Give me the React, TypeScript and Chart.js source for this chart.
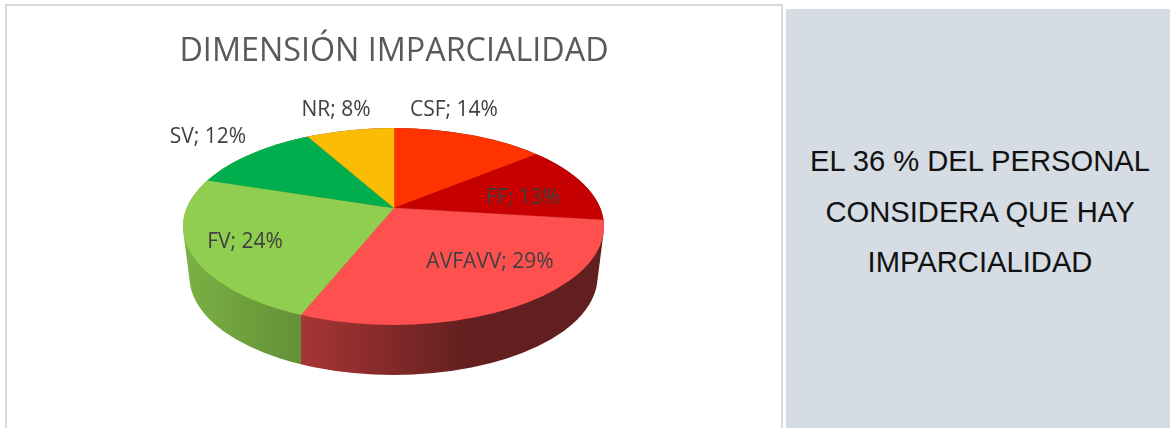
import React, { useEffect, useRef } from "react";
import { Chart, registerables } from "chart.js";

Chart.register(...registerables);

const categories = ["CSF", "FF", "AVFAVV", "FV", "SV", "NR"];
const values = [14, 13, 29, 24, 12, 8];
const colors = ["#FF3300", "#C60000", "#FF5050", "#8FCE4F", "#00AE4D", "#FBBC05"];
// Shade stops (position, brightness) of the outer wall of each slice, where it faces the viewer
const wallShades = [
  [[0, 0.7], [1, 0.7]],
  [[0, 0.4], [1, 0.4]],
  [[0, 0.66], [0.55, 0.39], [1, 0.39]],
  [[0, 0.86], [1, 0.7]],
  [[0, 0.7], [1, 0.7]],
  [[0, 0.7], [1, 0.7]],
];
// Data label centres, in chart canvas pixels
const labelX = [448, 517, 484, 239, 202, 330];
const labelY = [104, 192, 256, 236, 131, 104];
const titleText = "DIMENSIÓN IMPARCIALIDAD";
const noteLines = ["EL 36 % DEL PERSONAL", "CONSIDERA QUE HAY", "IMPARCIALIDAD"];

const CANVAS_LEFT = 6;
const CANVAS_TOP = 6;
const APEX = { x: 388, y: 202 };
const TILT = 0.455;
const TOP_FACE = { x: 387.5, y: 220.5, rx: 210.5, ry: 98.5 };
const BOTTOM_FACE = { x: 387.5, y: 271, rx: 204, ry: 98 };

function shade(hex: string, f: number) {
  const n = parseInt(hex.slice(1), 16);
  const r = Math.round(((n >> 16) & 255) * f);
  const g = Math.round(((n >> 8) & 255) * f);
  const b = Math.round((n & 255) * f);
  return `rgb(${r},${g},${b})`;
}

function rayHit(angle: number) {
  // Where a slice edge leaving the apex meets the top face ellipse
  const dx = Math.cos(angle);
  const dy = Math.sin(angle) * TILT;
  const ox = APEX.x - TOP_FACE.x;
  const oy = APEX.y - TOP_FACE.y;
  const a = (dx * dx) / TOP_FACE.rx ** 2 + (dy * dy) / TOP_FACE.ry ** 2;
  const b = 2 * ((ox * dx) / TOP_FACE.rx ** 2 + (oy * dy) / TOP_FACE.ry ** 2);
  const c = (ox * ox) / TOP_FACE.rx ** 2 + (oy * oy) / TOP_FACE.ry ** 2 - 1;
  const t = (-b + Math.sqrt(b * b - 4 * a * c)) / (2 * a);
  return { x: APEX.x + dx * t, y: APEX.y + dy * t };
}

const pie3d = {
  id: "pie3d",
  beforeDatasetsDraw(chart: any) {
    const ctx = chart.ctx;
    const arcs = chart.getDatasetMeta(0).data;
    arcs.forEach((arc: any, i: number) => {
      let min = Infinity;
      let max = -Infinity;
      const steps = 120;
      for (let s = 0; s <= steps; s++) {
        const p = rayHit(arc.startAngle + ((arc.endAngle - arc.startAngle) * s) / steps);
        if (p.y >= TOP_FACE.y) {
          min = Math.min(min, p.x);
          max = Math.max(max, p.x);
        }
      }
      if (!(max > min)) return;
      ctx.save();
      ctx.beginPath();
      ctx.rect(min, 0, max - min, chart.height);
      ctx.clip();
      const grad = ctx.createLinearGradient(min, 0, max, 0);
      wallShades[i].forEach(([pos, f]) => grad.addColorStop(pos, shade(colors[i], f)));
      ctx.fillStyle = grad;
      ctx.beginPath();
      const n = 60;
      for (let k = 0; k <= n; k++) {
        const t = k / n;
        const x = TOP_FACE.x + (BOTTOM_FACE.x - TOP_FACE.x) * t;
        const y = TOP_FACE.y + (BOTTOM_FACE.y - TOP_FACE.y) * t;
        const rx = TOP_FACE.rx + (BOTTOM_FACE.rx - TOP_FACE.rx) * t;
        const ry = TOP_FACE.ry + (BOTTOM_FACE.ry - TOP_FACE.ry) * t;
        ctx.moveTo(x + rx, y);
        ctx.ellipse(x, y, rx, ry, 0, 0, Math.PI * 2);
      }
      ctx.fill("nonzero");
      ctx.restore();
    });
  },
  beforeDatasetDraw(chart: any) {
    const ctx = chart.ctx;
    const arc = chart.getDatasetMeta(0).data[0];
    ctx.save();
    ctx.beginPath();
    ctx.ellipse(TOP_FACE.x, TOP_FACE.y, TOP_FACE.rx, TOP_FACE.ry, 0, 0, Math.PI * 2);
    ctx.clip();
    ctx.translate(APEX.x, APEX.y);
    ctx.scale(1, TILT);
    ctx.translate(-arc.x, -arc.y);
  },
  afterDatasetDraw(chart: any) {
    chart.ctx.restore();
  },
  afterDatasetsDraw(chart: any) {
    const ctx = chart.ctx;
    ctx.save();
    ctx.font = '21px "Open Sans"';
    ctx.fillStyle = "#404040";
    ctx.textAlign = "center";
    ctx.textBaseline = "middle";
    categories.forEach((c, i) => {
      ctx.fillText(`${c}; ${values[i]}%`, labelX[i], labelY[i]);
    });
    ctx.restore();
  },
};

export default function App() {
  const ref = useRef<HTMLCanvasElement>(null);
  useEffect(() => {
    const chart = new Chart(ref.current!, {
      type: "pie",
      data: {
        labels: categories,
        datasets: [
          {
            data: values,
            backgroundColor: colors,
            borderColor: colors,
            borderWidth: 0.5,
            clip: false,
          } as any,
        ],
      },
      options: {
        animation: false,
        responsive: false,
        radius: 320,
        plugins: {
          legend: { display: false },
          tooltip: { enabled: false },
          title: {
            display: true,
            text: titleText,
            color: "#595959",
            font: { family: '"Open Sans"', size: 32.3, weight: "normal" },
            padding: { top: 26, bottom: 10 },
          },
        },
      } as any,
      plugins: [pie3d],
    });
    return () => chart.destroy();
  }, []);

  return (
    <div style={{ position: "absolute", left: 0, top: 0, width: 1170, height: 428, overflow: "hidden", background: "#fff" }}>
      <div style={{ position: "absolute", left: 5, top: 4, width: 774, height: 440, border: "2px solid #D9D9D9" }} />
      <canvas
        ref={ref}
        width={776}
        height={422}
        style={{ position: "absolute", left: CANVAS_LEFT, top: CANVAS_TOP, width: 776, height: 422 }}
      />
      <div style={{ position: "absolute", left: 786, top: 9, width: 384, height: 419, background: "#D5DCE4" }}>
        {noteLines.map((line, i) => (
          <div
            key={line}
            style={{
              position: "absolute",
              left: 0,
              width: 388,
              top: 127 + i * 50.5,
              height: 50,
              lineHeight: "50px",
              textAlign: "center",
              fontFamily: '"Liberation Sans"',
              fontSize: 29.2,
              color: "#111",
              whiteSpace: "nowrap",
            }}
          >
            {line}
          </div>
        ))}
      </div>
    </div>
  );
}
